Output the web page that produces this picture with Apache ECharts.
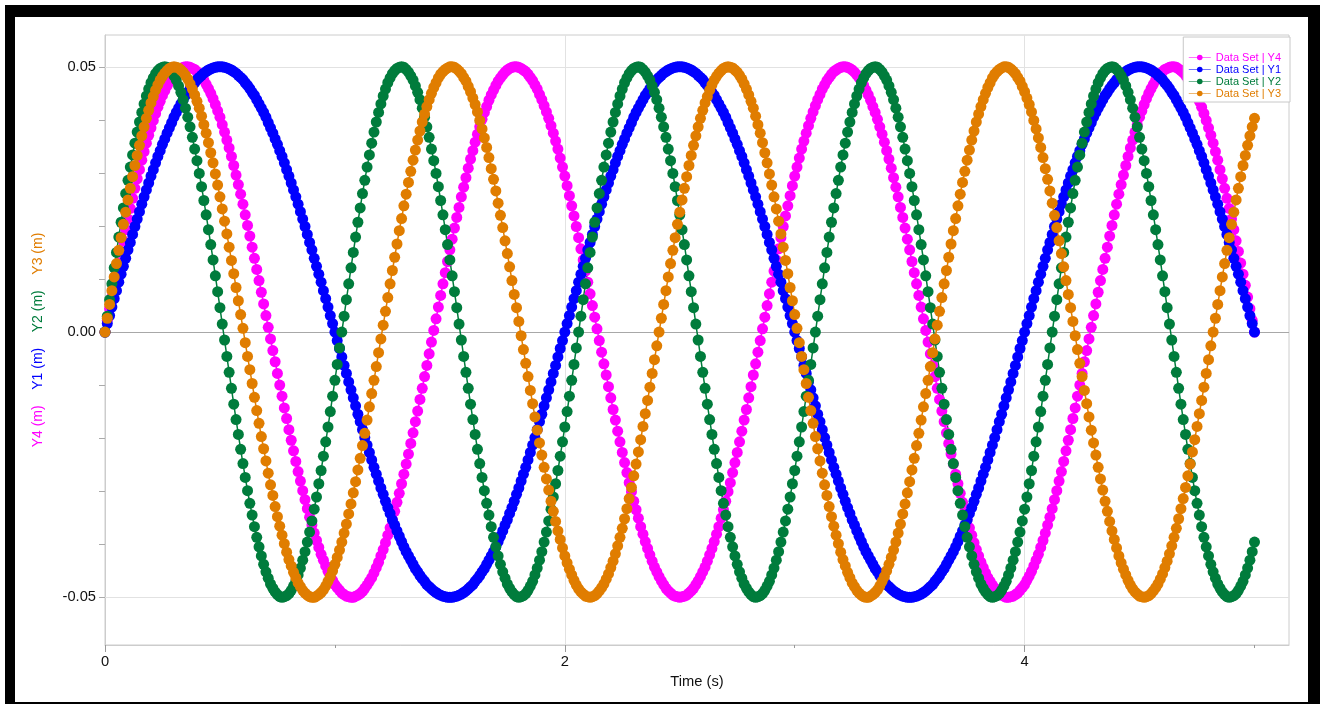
<!DOCTYPE html>
<html>
<head>
<meta charset="utf-8">
<title>Data Set | Y1-Y4</title>
<script src="https://cdn.jsdelivr.net/npm/echarts@6.0.0/dist/echarts.min.js"></script>
<style>
  html, body { margin: 0; padding: 0; background: #fff; }
  #chart { width: 1320px; height: 704px; }
</style>
</head>
<body>
<div id="chart"></div>
<script>
// one sample every 0.01 s, positions in mm (axis labels show metres)
const SAMPLE_INTERVAL = 0.01

const Y1 = [
  0,1.6,3.1,4.7,6.3,7.8,9.4,10.9,12.4,13.9,15.5,16.9,18.4,19.9,21.3,22.7,24.1,25.5,26.8,28.1,29.4,30.6,31.9,33.1,34.2,35.4,36.4,37.5,38.5,39.5,40.5,41.4,42.2,43,43.8,44.6,45.2,45.9,46.5,47,47.6,48,48.4,48.8,49.1,49.4,49.6,49.8,49.9,50,50,
  50,49.9,49.8,49.6,49.4,49.1,48.8,48.4,48,47.6,47,46.5,45.9,45.2,44.6,43.8,43,42.2,41.4,40.5,39.5,38.5,37.5,36.4,35.4,34.2,33.1,31.9,30.6,29.4,28.1,26.8,25.5,24.1,22.7,21.3,19.9,18.4,16.9,15.5,13.9,12.4,10.9,9.4,7.8,6.3,4.7,3.1,1.6,
  0,-1.6,-3.1,-4.7,-6.3,-7.8,-9.4,-10.9,-12.4,-13.9,-15.5,-16.9,-18.4,-19.9,-21.3,-22.7,-24.1,-25.5,-26.8,-28.1,-29.4,-30.6,-31.9,-33.1,-34.2,-35.4,-36.4,-37.5,-38.5,-39.5,-40.5,-41.4,-42.2,-43,-43.8,-44.6,-45.2,-45.9,-46.5,-47,-47.6,-48,-48.4,-48.8,-49.1,-49.4,-49.6,-49.8,-49.9,-50,-50,
  -50,-49.9,-49.8,-49.6,-49.4,-49.1,-48.8,-48.4,-48,-47.6,-47,-46.5,-45.9,-45.2,-44.6,-43.8,-43,-42.2,-41.4,-40.5,-39.5,-38.5,-37.5,-36.4,-35.4,-34.2,-33.1,-31.9,-30.6,-29.4,-28.1,-26.8,-25.5,-24.1,-22.7,-21.3,-19.9,-18.4,-16.9,-15.5,-13.9,-12.4,-10.9,-9.4,-7.8,-6.3,-4.7,-3.1,-1.6,
  0,1.6,3.1,4.7,6.3,7.8,9.4,10.9,12.4,13.9,15.5,16.9,18.4,19.9,21.3,22.7,24.1,25.5,26.8,28.1,29.4,30.6,31.9,33.1,34.2,35.4,36.4,37.5,38.5,39.5,40.5,41.4,42.2,43,43.8,44.6,45.2,45.9,46.5,47,47.6,48,48.4,48.8,49.1,49.4,49.6,49.8,49.9,50,50,
  50,49.9,49.8,49.6,49.4,49.1,48.8,48.4,48,47.6,47,46.5,45.9,45.2,44.6,43.8,43,42.2,41.4,40.5,39.5,38.5,37.5,36.4,35.4,34.2,33.1,31.9,30.6,29.4,28.1,26.8,25.5,24.1,22.7,21.3,19.9,18.4,16.9,15.5,13.9,12.4,10.9,9.4,7.8,6.3,4.7,3.1,1.6,
  0,-1.6,-3.1,-4.7,-6.3,-7.8,-9.4,-10.9,-12.4,-13.9,-15.5,-16.9,-18.4,-19.9,-21.3,-22.7,-24.1,-25.5,-26.8,-28.1,-29.4,-30.6,-31.9,-33.1,-34.2,-35.4,-36.4,-37.5,-38.5,-39.5,-40.5,-41.4,-42.2,-43,-43.8,-44.6,-45.2,-45.9,-46.5,-47,-47.6,-48,-48.4,-48.8,-49.1,-49.4,-49.6,-49.8,-49.9,-50,-50,
  -50,-49.9,-49.8,-49.6,-49.4,-49.1,-48.8,-48.4,-48,-47.6,-47,-46.5,-45.9,-45.2,-44.6,-43.8,-43,-42.2,-41.4,-40.5,-39.5,-38.5,-37.5,-36.4,-35.4,-34.2,-33.1,-31.9,-30.6,-29.4,-28.1,-26.8,-25.5,-24.1,-22.7,-21.3,-19.9,-18.4,-16.9,-15.5,-13.9,-12.4,-10.9,-9.4,-7.8,-6.3,-4.7,-3.1,-1.6,
  0,1.6,3.1,4.7,6.3,7.8,9.4,10.9,12.4,13.9,15.5,16.9,18.4,19.9,21.3,22.7,24.1,25.5,26.8,28.1,29.4,30.6,31.9,33.1,34.2,35.4,36.4,37.5,38.5,39.5,40.5,41.4,42.2,43,43.8,44.6,45.2,45.9,46.5,47,47.6,48,48.4,48.8,49.1,49.4,49.6,49.8,49.9,50,50,
  50,49.9,49.8,49.6,49.4,49.1,48.8,48.4,48,47.6,47,46.5,45.9,45.2,44.6,43.8,43,42.2,41.4,40.5,39.5,38.5,37.5,36.4,35.4,34.2,33.1,31.9,30.6,29.4,28.1,26.8,25.5,24.1,22.7,21.3,19.9,18.4,16.9,15.5,13.9,12.4,10.9,9.4,7.8,6.3,4.7,3.1,1.6,
  0
]

const Y2 = [
  0,3,6.1,9.1,12.1,15,17.9,20.7,23.4,26.1,28.6,31.1,33.4,35.6,37.7,39.6,41.4,43,44.5,45.8,47,47.9,48.7,49.3,49.7,49.9,50,49.9,49.5,49,48.3,47.5,46.4,45.2,43.8,42.2,40.5,38.7,36.7,34.5,32.3,29.9,27.4,24.8,22.1,19.3,16.5,13.6,10.6,7.6,4.6,1.5,
  -1.5,-4.6,-7.6,-10.6,-13.6,-16.5,-19.3,-22.1,-24.8,-27.4,-29.9,-32.3,-34.5,-36.7,-38.7,-40.5,-42.2,-43.8,-45.2,-46.4,-47.5,-48.3,-49,-49.5,-49.9,-50,-49.9,-49.7,-49.3,-48.7,-47.9,-47,-45.8,-44.5,-43,-41.4,-39.6,-37.7,-35.6,-33.4,-31.1,-28.6,-26.1,-23.4,-20.7,-17.9,-15,-12.1,-9.1,-6.1,-3,
  0,3,6.1,9.1,12.1,15,17.9,20.7,23.4,26.1,28.6,31.1,33.4,35.6,37.7,39.6,41.4,43,44.5,45.8,47,47.9,48.7,49.3,49.7,49.9,50,49.9,49.5,49,48.3,47.5,46.4,45.2,43.8,42.2,40.5,38.7,36.7,34.5,32.3,29.9,27.4,24.8,22.1,19.3,16.5,13.6,10.6,7.6,4.6,1.5,
  -1.5,-4.6,-7.6,-10.6,-13.6,-16.5,-19.3,-22.1,-24.8,-27.4,-29.9,-32.3,-34.5,-36.7,-38.7,-40.5,-42.2,-43.8,-45.2,-46.4,-47.5,-48.3,-49,-49.5,-49.9,-50,-49.9,-49.7,-49.3,-48.7,-47.9,-47,-45.8,-44.5,-43,-41.4,-39.6,-37.7,-35.6,-33.4,-31.1,-28.6,-26.1,-23.4,-20.7,-17.9,-15,-12.1,-9.1,-6.1,-3,
  0,3,6.1,9.1,12.1,15,17.9,20.7,23.4,26.1,28.6,31.1,33.4,35.6,37.7,39.6,41.4,43,44.5,45.8,47,47.9,48.7,49.3,49.7,49.9,50,49.9,49.5,49,48.3,47.5,46.4,45.2,43.8,42.2,40.5,38.7,36.7,34.5,32.3,29.9,27.4,24.8,22.1,19.3,16.5,13.6,10.6,7.6,4.6,1.5,
  -1.5,-4.6,-7.6,-10.6,-13.6,-16.5,-19.3,-22.1,-24.8,-27.4,-29.9,-32.3,-34.5,-36.7,-38.7,-40.5,-42.2,-43.8,-45.2,-46.4,-47.5,-48.3,-49,-49.5,-49.9,-50,-49.9,-49.7,-49.3,-48.7,-47.9,-47,-45.8,-44.5,-43,-41.4,-39.6,-37.7,-35.6,-33.4,-31.1,-28.6,-26.1,-23.4,-20.7,-17.9,-15,-12.1,-9.1,-6.1,-3,
  0,3,6.1,9.1,12.1,15,17.9,20.7,23.4,26.1,28.6,31.1,33.4,35.6,37.7,39.6,41.4,43,44.5,45.8,47,47.9,48.7,49.3,49.7,49.9,50,49.9,49.5,49,48.3,47.5,46.4,45.2,43.8,42.2,40.5,38.7,36.7,34.5,32.3,29.9,27.4,24.8,22.1,19.3,16.5,13.6,10.6,7.6,4.6,1.5,
  -1.5,-4.6,-7.6,-10.6,-13.6,-16.5,-19.3,-22.1,-24.8,-27.4,-29.9,-32.3,-34.5,-36.7,-38.7,-40.5,-42.2,-43.8,-45.2,-46.4,-47.5,-48.3,-49,-49.5,-49.9,-50,-49.9,-49.7,-49.3,-48.7,-47.9,-47,-45.8,-44.5,-43,-41.4,-39.6,-37.7,-35.6,-33.4,-31.1,-28.6,-26.1,-23.4,-20.7,-17.9,-15,-12.1,-9.1,-6.1,-3,
  0,3,6.1,9.1,12.1,15,17.9,20.7,23.4,26.1,28.6,31.1,33.4,35.6,37.7,39.6,41.4,43,44.5,45.8,47,47.9,48.7,49.3,49.7,49.9,50,49.9,49.5,49,48.3,47.5,46.4,45.2,43.8,42.2,40.5,38.7,36.7,34.5,32.3,29.9,27.4,24.8,22.1,19.3,16.5,13.6,10.6,7.6,4.6,1.5,
  -1.5,-4.6,-7.6,-10.6,-13.6,-16.5,-19.3,-22.1,-24.8,-27.4,-29.9,-32.3,-34.5,-36.7,-38.7,-40.5,-42.2,-43.8,-45.2,-46.4,-47.5,-48.3,-49,-49.5,-49.9,-50,-49.9,-49.7,-49.3,-48.7,-47.9,-47,-45.8,-44.5,-43,-41.4,-39.6
]

const Y3 = [
  0,2.6,5.2,7.8,10.4,12.9,15.4,17.8,20.3,22.6,24.9,27.1,29.3,31.4,33.3,35.2,37,38.7,40.3,41.8,43.2,44.4,45.6,46.6,47.5,48.2,48.8,49.3,49.7,49.9,50,
  49.9,49.8,49.4,49,48.4,47.7,46.8,45.8,44.7,43.5,42.2,40.7,39.1,37.5,35.7,33.8,31.9,29.8,27.7,25.5,23.2,20.9,18.5,16,13.5,11,8.4,5.9,3.3,0.7,
  -2,-4.6,-7.1,-9.7,-12.3,-14.8,-17.2,-19.7,-22,-24.3,-26.6,-28.8,-30.8,-32.9,-34.8,-36.6,-38.3,-39.9,-41.5,-42.9,-44.1,-45.3,-46.3,-47.3,-48,-48.7,-49.2,-49.6,-49.9,-50,
  -50,-49.8,-49.5,-49.1,-48.6,-47.9,-47,-46.1,-45,-43.8,-42.5,-41.1,-39.6,-37.9,-36.2,-34.3,-32.4,-30.3,-28.2,-26,-23.8,-21.4,-19.1,-16.6,-14.1,-11.6,-9.1,-6.5,-3.9,-1.3,
  1.3,3.9,6.5,9.1,11.6,14.1,16.6,19.1,21.4,23.8,26,28.2,30.3,32.4,34.3,36.2,37.9,39.6,41.1,42.5,43.8,45,46.1,47,47.9,48.6,49.1,49.5,49.8,50,
  50,49.9,49.6,49.2,48.7,48,47.3,46.3,45.3,44.1,42.9,41.5,39.9,38.3,36.6,34.8,32.9,30.8,28.8,26.6,24.3,22,19.7,17.2,14.8,12.3,9.7,7.1,4.6,2,
  -0.7,-3.3,-5.9,-8.4,-11,-13.5,-16,-18.5,-20.9,-23.2,-25.5,-27.7,-29.8,-31.9,-33.8,-35.7,-37.5,-39.1,-40.7,-42.2,-43.5,-44.7,-45.8,-46.8,-47.7,-48.4,-49,-49.4,-49.8,-49.9,
  -50,-49.9,-49.7,-49.3,-48.8,-48.2,-47.5,-46.6,-45.6,-44.4,-43.2,-41.8,-40.3,-38.7,-37,-35.2,-33.3,-31.4,-29.3,-27.1,-24.9,-22.6,-20.3,-17.8,-15.4,-12.9,-10.4,-7.8,-5.2,-2.6,
  0,2.6,5.2,7.8,10.4,12.9,15.4,17.8,20.3,22.6,24.9,27.1,29.3,31.4,33.3,35.2,37,38.7,40.3,41.8,43.2,44.4,45.6,46.6,47.5,48.2,48.8,49.3,49.7,49.9,50,
  49.9,49.8,49.4,49,48.4,47.7,46.8,45.8,44.7,43.5,42.2,40.7,39.1,37.5,35.7,33.8,31.9,29.8,27.7,25.5,23.2,20.9,18.5,16,13.5,11,8.4,5.9,3.3,0.7,
  -2,-4.6,-7.1,-9.7,-12.3,-14.8,-17.2,-19.7,-22,-24.3,-26.6,-28.8,-30.8,-32.9,-34.8,-36.6,-38.3,-39.9,-41.5,-42.9,-44.1,-45.3,-46.3,-47.3,-48,-48.7,-49.2,-49.6,-49.9,-50,
  -50,-49.8,-49.5,-49.1,-48.6,-47.9,-47,-46.1,-45,-43.8,-42.5,-41.1,-39.6,-37.9,-36.2,-34.3,-32.4,-30.3,-28.2,-26,-23.8,-21.4,-19.1,-16.6,-14.1,-11.6,-9.1,-6.5,-3.9,-1.3,
  1.3,3.9,6.5,9.1,11.6,14.1,16.6,19.1,21.4,23.8,26,28.2,30.3,32.4,34.3,36.2,37.9,39.6,41.1,42.5,43.8,45,46.1,47,47.9,48.6,49.1,49.5,49.8,50,
  50,49.9,49.6,49.2,48.7,48,47.3,46.3,45.3,44.1,42.9,41.5,39.9,38.3,36.6,34.8,32.9,30.8,28.8,26.6,24.3,22,19.7,17.2,14.8,12.3,9.7,7.1,4.6,2,
  -0.7,-3.3,-5.9,-8.4,-11,-13.5,-16,-18.5,-20.9,-23.2,-25.5,-27.7,-29.8,-31.9,-33.8,-35.7,-37.5,-39.1,-40.7,-42.2,-43.5,-44.7,-45.8,-46.8,-47.7,-48.4,-49,-49.4,-49.8,-49.9,
  -50,-49.9,-49.7,-49.3,-48.8,-48.2,-47.5,-46.6,-45.6,-44.4,-43.2,-41.8,-40.3,-38.7,-37,-35.2,-33.3,-31.4,-29.3,-27.1,-24.9,-22.6,-20.3,-17.8,-15.4,-12.9,-10.4,-7.8,-5.2,-2.6,
  0,2.6,5.2,7.8,10.4,12.9,15.4,17.8,20.3,22.6,24.9,27.1,29.3,31.4,33.3,35.2,37,38.7,40.3
]

const Y4 = [
  0,2.2,4.4,6.6,8.8,10.9,13,15.2,17.2,19.3,
  21.3,23.3,25.2,27.1,28.9,30.6,32.4,34,35.6,37.1,
  38.5,39.9,41.2,42.4,43.5,44.6,45.5,46.4,47.1,47.8,
  48.4,48.9,49.3,49.6,49.9,50,50,49.9,49.7,49.5,
  49.1,48.7,48.1,47.5,46.7,45.9,45,44,42.9,41.7,
  40.5,39.1,37.7,36.2,34.7,33.1,31.4,29.6,27.8,26,
  24.1,22.1,20.1,18.1,16,13.9,11.8,9.7,7.5,5.3,
  3.1,0.9,-1.3,-3.5,-5.6,-7.8,-10,-12.1,-14.3,-16.3,
  -18.4,-20.4,-22.4,-24.4,-26.3,-28.1,-29.9,-31.6,-33.3,-34.9,
  -36.4,-37.9,-39.3,-40.6,-41.9,-43,-44.1,-45.1,-46,-46.8,
  -47.6,-48.2,-48.7,-49.2,-49.5,-49.8,-49.9,-50,-50,-49.8,
  -49.6,-49.3,-48.9,-48.3,-47.7,-47,-46.3,-45.4,-44.4,-43.4,
  -42.2,-41,-39.7,-38.3,-36.9,-35.4,-33.8,-32.1,-30.4,-28.6,
  -26.8,-24.9,-23,-21,-19,-16.9,-14.9,-12.7,-10.6,-8.4,
  -6.3,-4.1,-1.9,0.3,2.5,4.7,6.9,9.1,11.2,13.3,
  15.5,17.5,19.6,21.6,23.5,25.5,27.3,29.1,30.9,32.6,
  34.2,35.8,37.3,38.7,40.1,41.4,42.5,43.7,44.7,45.6,
  46.5,47.3,47.9,48.5,49,49.4,49.7,49.9,50,50,
  49.9,49.7,49.4,49.1,48.6,48,47.4,46.6,45.8,44.8,
  43.8,42.7,41.5,40.3,38.9,37.5,36,34.5,32.8,31.1,
  29.4,27.6,25.7,23.8,21.9,19.9,17.8,15.7,13.6,11.5,
  9.4,7.2,5,2.8,0.6,-1.6,-3.8,-6,-8.1,-10.3,
  -12.4,-14.6,-16.6,-18.7,-20.7,-22.7,-24.6,-26.5,-28.4,-30.1,
  -31.9,-33.5,-35.1,-36.7,-38.1,-39.5,-40.8,-42,-43.2,-44.3,
  -45.2,-46.1,-46.9,-47.6,-48.3,-48.8,-49.2,-49.6,-49.8,-49.9,
  -50,
  -49.9,-49.8,-49.6,-49.2,-48.8,-48.3,-47.6,-46.9,-46.1,-45.2,
  -44.3,-43.2,-42,-40.8,-39.5,-38.1,-36.7,-35.1,-33.5,-31.9,
  -30.1,-28.4,-26.5,-24.6,-22.7,-20.7,-18.7,-16.6,-14.6,-12.4,
  -10.3,-8.1,-6,-3.8,-1.6,0.6,2.8,5,7.2,9.4,
  11.5,13.6,15.7,17.8,19.9,21.9,23.8,25.7,27.6,29.4,
  31.1,32.8,34.5,36,37.5,38.9,40.3,41.5,42.7,43.8,
  44.8,45.8,46.6,47.4,48,48.6,49.1,49.4,49.7,49.9,
  50,50,49.9,49.7,49.4,49,48.5,47.9,47.3,46.5,
  45.6,44.7,43.7,42.5,41.4,40.1,38.7,37.3,35.8,34.2,
  32.6,30.9,29.1,27.3,25.5,23.5,21.6,19.6,17.5,15.5,
  13.3,11.2,9.1,6.9,4.7,2.5,0.3,-1.9,-4.1,-6.3,
  -8.4,-10.6,-12.7,-14.9,-16.9,-19,-21,-23,-24.9,-26.8,
  -28.6,-30.4,-32.1,-33.8,-35.4,-36.9,-38.3,-39.7,-41,-42.2,
  -43.4,-44.4,-45.4,-46.3,-47,-47.7,-48.3,-48.9,-49.3,-49.6,
  -49.8,-50,-50,-49.9,-49.8,-49.5,-49.2,-48.7,-48.2,-47.6,
  -46.8,-46,-45.1,-44.1,-43,-41.9,-40.6,-39.3,-37.9,-36.4,
  -34.9,-33.3,-31.6,-29.9,-28.1,-26.3,-24.4,-22.4,-20.4,-18.4,
  -16.3,-14.3,-12.1,-10,-7.8,-5.6,-3.5,-1.3,0.9,3.1,
  5.3,7.5,9.7,11.8,13.9,16,18.1,20.1,22.1,24.1,
  26,27.8,29.6,31.4,33.1,34.7,36.2,37.7,39.1,40.5,
  41.7,42.9,44,45,45.9,46.7,47.5,48.1,48.7,49.1,
  49.5,49.7,49.9,50,50,49.9,49.6,49.3,48.9,48.4,
  47.8,47.1,46.4,45.5,44.6,43.5,42.4,41.2,39.9,38.5,
  37.1,35.6,34,32.4,30.6,28.9,27.1,25.2,23.3,21.3,
  19.3,17.2,15.2,13,10.9,8.8,6.6,4.4,2.2,0
]

const X_LABELS = [0, 2, 4]
const X_MINOR_TICKS = [1, 3, 5]
const Y_LABELS = [-50, 0, 50]
const Y_TICKS = [-50, -40, -30, -20, -10, 0, 10, 20, 30, 40, 50]

const FONT = '"Liberation Sans", Arial, sans-serif'
const COLOR = {
  y4: '#ff00ff',
  y1: '#0000ff',
  y2: '#007c3c',
  y3: '#e07d00'
}
const GRID_LINE = { color: '#e2e2e2', width: 1, type: 'solid' }

function toPoints(values) {
  return values.map((v, i) => [i * SAMPLE_INTERVAL, v])
}

function dotSeries(name, values, color) {
  return {
    name: name,
    type: 'line',
    data: toPoints(values),
    symbol: 'circle',
    symbolSize: 11,
    showAllSymbol: true,
    silent: true,
    lineStyle: { color: color, width: 1.5 },
    itemStyle: { color: color }
  }
}

function keyItem(name, color) {
  return {
    name: name,
    lineStyle: { color: color, width: 1, opacity: 0.55 },
    textStyle: { color: color }
  }
}

const chart = echarts.init(document.getElementById('chart'), null, { renderer: 'canvas' })

const y4Series = dotSeries('Data Set | Y4', Y4, COLOR.y4)
// grid lines + zero line drawn under the dots
y4Series.markLine = {
  silent: true,
  z: 1,
  symbol: ['none', 'none'],
  label: { show: false },
  emphasis: { disabled: true },
  animation: false,
  data: [
    ...Y_LABELS.filter(v => v !== 0).map(v => ({ yAxis: v, lineStyle: GRID_LINE })),
    ...X_LABELS.filter(v => v !== 0).map(v => ({ xAxis: v, lineStyle: GRID_LINE })),
    { yAxis: 0, lineStyle: { color: '#a8a8a8', width: 1, type: 'solid' } }
  ]
}

chart.setOption({
  animation: false,
  backgroundColor: '#fff',
  textStyle: { fontFamily: FONT },
  grid: {
    left: 105,
    right: 31,
    top: 35,
    bottom: 59,
    show: true,
    borderColor: '#cccccc',
    borderWidth: 1
  },
  legend: {
    orient: 'vertical',
    right: 30,
    top: 37,
    align: 'left',
    backgroundColor: '#fff',
    borderColor: '#c8c8c8',
    borderWidth: 1,
    padding: [15, 9, 3, 5],
    itemGap: 1,
    itemWidth: 22,
    itemHeight: 7,
    selectedMode: false,
    textStyle: { fontSize: 11, lineHeight: 11, fontFamily: FONT },
    data: [
      keyItem('Data Set | Y4', COLOR.y4),
      keyItem('Data Set | Y1', COLOR.y1),
      keyItem('Data Set | Y2', COLOR.y2),
      keyItem('Data Set | Y3', COLOR.y3)
    ]
  },
  xAxis: [
    {
      type: 'value',
      position: 'bottom',
      min: 0,
      max: 5.15,
      name: 'Time (s)',
      nameLocation: 'middle',
      nameGap: 29,
      nameTextStyle: { color: '#111', fontSize: 14.7 },
      axisLine: { show: true, onZero: false, lineStyle: { color: '#cccccc' } },
      axisTick: { show: true, length: 7, customValues: X_LABELS, lineStyle: { color: '#999' } },
      axisLabel: { customValues: X_LABELS, color: '#111', fontSize: 14.7, margin: 9 },
      splitLine: { show: false }
    },
    {
      type: 'value',
      position: 'bottom',
      min: 0,
      max: 5.15,
      axisLine: { show: false, onZero: false },
      axisTick: { show: true, length: 3, customValues: X_MINOR_TICKS, lineStyle: { color: '#999' } },
      axisLabel: { show: false },
      splitLine: { show: false }
    }
  ],
  yAxis: {
    type: 'value',
    min: -59,
    max: 56,
    name: '{y4|Y4 (m)}    {y1|Y1 (m)}    {y2|Y2 (m)}    {y3|Y3 (m)}',
    nameLocation: 'middle',
    nameRotate: 90,
    nameGap: 60,
    nameTextStyle: {
      fontSize: 14,
      rich: {
        y4: { color: COLOR.y4, fontSize: 14 },
        y1: { color: COLOR.y1, fontSize: 14 },
        y2: { color: COLOR.y2, fontSize: 14 },
        y3: { color: COLOR.y3, fontSize: 14 }
      }
    },
    axisLine: { show: true, onZero: false, lineStyle: { color: '#cccccc' } },
    axisTick: { show: true, length: 6, customValues: Y_TICKS, lineStyle: { color: '#aaa' } },
    axisLabel: {
      customValues: Y_LABELS,
      color: '#111',
      fontSize: 14.7,
      margin: 9,
      formatter: v => (v / 1000).toFixed(2)
    },
    splitLine: { show: false }
  },
  graphic: [
    // black photo frame around the screenshot
    { type: 'rect', shape: { x: 5, y: 5, width: 1315, height: 12 }, style: { fill: '#000' }, z: 100 },
    { type: 'rect', shape: { x: 5, y: 5, width: 10, height: 699 }, style: { fill: '#000' }, z: 100 },
    { type: 'rect', shape: { x: 1308, y: 5, width: 12, height: 699 }, style: { fill: '#000' }, z: 100 },
    { type: 'rect', shape: { x: 5, y: 702, width: 1315, height: 2 }, style: { fill: '#000' }, z: 100 },
    // legend close box
    {
      type: 'group',
      left: 1184,
      top: 38,
      z: 100,
      children: [
        { type: 'rect', shape: { x: 0, y: 0, width: 11, height: 11 }, style: { fill: '#8e8e8e', stroke: '#5a5a5a', lineWidth: 1 } },
        { type: 'line', shape: { x1: 2, y1: 2, x2: 9, y2: 9 }, style: { stroke: '#3a3a3a', lineWidth: 1 } },
        { type: 'line', shape: { x1: 9, y1: 2, x2: 2, y2: 9 }, style: { stroke: '#3a3a3a', lineWidth: 1 } }
      ]
    }
  ],
  series: [
    y4Series,
    dotSeries('Data Set | Y1', Y1, COLOR.y1),
    dotSeries('Data Set | Y2', Y2, COLOR.y2),
    dotSeries('Data Set | Y3', Y3, COLOR.y3)
  ]
})
</script>
</body>
</html>
